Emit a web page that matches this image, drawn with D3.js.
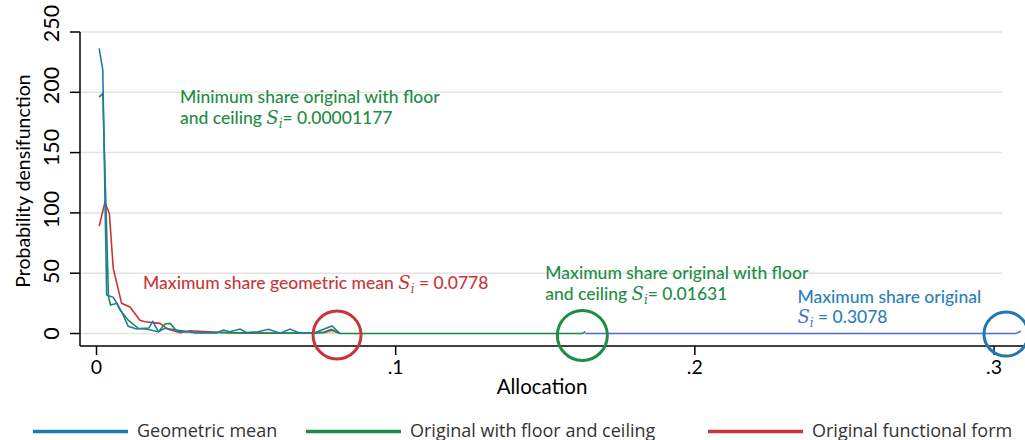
<!DOCTYPE html>
<html><head><meta charset="utf-8">
<script src="https://cdn.jsdelivr.net/npm/d3@7"></script>
<style>
body{margin:0;background:#fff;}
svg{display:block;}
</style></head>
<body><svg id="c" width="1025" height="440"></svg>
<script>
// ---- data ----
const yTicks = [0, 50, 100, 150, 200, 250];
const xTicks = [0, 0.1, 0.2, 0.3];
const xTickLabels = ["0", ".1", ".2", ".3"];

const geoAlloc   = [0.0009,0.0021,0.0034,0.0056,0.0068,0.0084,0.0106,0.0134,0.016,0.0175,0.0188,0.0207,0.0229,0.0268,0.033,0.040,0.0424,0.0446,0.048,0.0502,0.054,0.0575,0.0614,0.0647,0.068,0.0725,0.0787,0.0814];
const geoDensity = [236.5,218.5,32,30,25,18,6,3.7,4.3,4.5,9.8,1.5,4.3,2.9,0.5,0.5,2.9,1.5,3.7,0.7,1.5,3.5,0.3,3.7,0.2,0.2,6.2,0];

const floorAlloc   = [0.0009,0.0021,0.004,0.0047,0.0068,0.0079,0.0106,0.014,0.0168,0.0207,0.0229,0.0246,0.0268,0.0324,0.05,0.07,0.0759,0.0787,0.0814,0.1625,0.1634];
const floorDensity = [196,199,30.5,23.6,25,19.5,11,4.3,3.5,1.5,7.9,8.4,2,1,0.5,0.3,0.7,2.9,0,0,1.5];

const origAlloc   = [0.0009,0.0028,0.0043,0.0056,0.0084,0.0112,0.0145,0.0162,0.0212,0.024,0.028,0.0313,0.0407,0.05,0.07,0.0759,0.0785,0.0814];
const origDensity = [89,108.5,99.6,54,25,22,11,9.8,8.4,3.5,0.7,2.3,1,0.2,0.2,1,3.5,0];

const tailAlloc   = [0.1634,0.3072,0.309];
const tailDensity = [0,0,1.8];

const circleAlloc   = [0.0804, 0.1624, 0.3040];
const circleDensity = [-1.2, -1.6, -0.5];
const circleColors  = ["#c8363a", "#1e8c45", "#1f78b0"];

const legendLabels = ["Geometric mean", "Original with floor and ceiling", "Original functional form"];
const legendColors = ["#1f78b0", "#1e8c45", "#c8363a"];

// ---- chart ----
const svg = d3.select("#c");
const x = d3.scaleLinear().domain([0, 0.3]).range([96.5, 994]);
const y = d3.scaleLinear().domain([0, 250]).range([333.5, 32]);
const yLab = d3.scaleLinear().domain([0, 250]).range([333.5, 23.5]);
const plotL = 80, plotR = 1002, axisBottom = 346;
const axFont = "Lato, sans-serif";

// gridlines
svg.append("g").selectAll("line").data(yTicks).join("line")
  .attr("x1", plotL).attr("x2", plotR)
  .attr("y1", d => y(d)).attr("y2", d => y(d))
  .attr("stroke", "#e3e3e3").attr("stroke-width", 1.5);

// axes lines
svg.append("line").attr("x1", plotL).attr("x2", plotL).attr("y1", y(250)).attr("y2", axisBottom)
  .attr("stroke", "#000").attr("stroke-width", 1.5);
svg.append("line").attr("x1", plotL).attr("x2", 1025).attr("y1", axisBottom).attr("y2", axisBottom)
  .attr("stroke", "#000").attr("stroke-width", 1.5);

// y ticks
svg.append("g").selectAll("line").data(yTicks).join("line")
  .attr("x1", plotL - 10).attr("x2", plotL).attr("y1", d => y(d)).attr("y2", d => y(d))
  .attr("stroke", "#000").attr("stroke-width", 1.5);
svg.append("g").selectAll("text").data(yTicks).join("text")
  .attr("transform", d => `translate(59,${yLab(d)}) rotate(-90)`)
  .attr("text-anchor", "middle")
  .attr("font-family", axFont).attr("font-size", 21.5).attr("fill", "#000")
  .text(d => d);

// x ticks
svg.append("g").selectAll("line").data(xTicks).join("line")
  .attr("x1", d => x(d)).attr("x2", d => x(d)).attr("y1", axisBottom).attr("y2", axisBottom + 9)
  .attr("stroke", "#000").attr("stroke-width", 1.5);
svg.append("g").selectAll("text").data(xTicks).join("text")
  .attr("x", d => x(d)).attr("y", 374)
  .attr("text-anchor", "middle")
  .attr("font-family", axFont).attr("font-size", 19.5).attr("fill", "#000")
  .text((d, i) => xTickLabels[i]);

// axis titles
svg.append("text").attr("x", 542).attr("y", 394).attr("text-anchor", "middle")
  .attr("font-family", axFont).attr("font-size", 20.5).attr("fill", "#000")
  .text("Allocation");
svg.append("text").attr("transform", "translate(30,181) rotate(-90)").attr("text-anchor", "middle")
  .attr("font-family", axFont).attr("font-size", 19.5).attr("fill", "#000")
  .text("Probability densifunction");

// lines
const line = d3.line().x(d => x(d[0])).y(d => y(d[1]));
function series(a, b) { return a.map((v, i) => [v, b[i]]); }
const origData = series(origAlloc, origDensity);
svg.append("path").datum(origData.filter(d => d[0] >= 0.074))
  .attr("d", d3.area().x(d => x(d[0])).y0(y(0)).y1(d => y(d[1])))
  .attr("fill", "#e8a3a3").attr("opacity", 0.6);
svg.append("path").datum(origData).attr("d", line)
  .attr("fill", "none").attr("stroke", "#c8363a").attr("stroke-width", 1.6);
svg.append("path").datum(series(floorAlloc, floorDensity)).attr("d", line)
  .attr("fill", "none").attr("stroke", "#1e8c45").attr("stroke-width", 1.6);
svg.append("path").datum(series(geoAlloc, geoDensity)).attr("d", line)
  .attr("fill", "none").attr("stroke", "#1f78b0").attr("stroke-width", 1.6);
svg.append("path").datum(series(tailAlloc, tailDensity)).attr("d", line)
  .attr("fill", "none").attr("stroke", "#4a72d6").attr("stroke-width", 1.6);

// circles
svg.append("g").selectAll("circle").data(circleAlloc).join("circle")
  .attr("cx", d => x(d)).attr("cy", (d, i) => y(circleDensity[i]))
  .attr("r", (d, i) => [24, 25, 22][i])
  .attr("fill", "none").attr("stroke", (d, i) => circleColors[i]).attr("stroke-width", 3);

// annotations
const annFont = "Lato, sans-serif", annSize = 17.5;
function sub(t, color) {
  t.append("tspan").attr("font-family", "'DejaVu Serif', serif").attr("font-style", "italic")
    .attr("font-weight", "normal").attr("font-size", 18).attr("fill", color).text("S");
  t.append("tspan").attr("font-family", "'DejaVu Serif', serif").attr("font-style", "italic")
    .attr("font-weight", "normal").attr("font-size", 12).attr("dy", 4).attr("fill", color).text("i");
}
function ann(xv, yv, color, lines) {
  const g = svg.append("g").attr("font-family", annFont).attr("font-size", annSize)
    .attr("font-weight", 500).attr("fill", color);
  lines.forEach((ln, k) => {
    const t = g.append("text").attr("x", x(xv)).attr("y", y(yv) + k * 20.5);
    ln(t);
  });
}
ann(0.0279, 191, "#1e8c45", [
  t => t.text("Minimum share original with floor"),
  t => { t.append("tspan").text("and ceiling "); sub(t, "#1e8c45"); t.append("tspan").attr("dy", -4).text("= 0.00001177"); }
]);
ann(0.01555, 36.5, "#c8363a", [
  t => { t.append("tspan").text("Maximum share geometric mean "); sub(t, "#c8363a"); t.append("tspan").attr("dy", -4).text(" = 0.0778"); }
]);
ann(0.15, 44.8, "#1e8c45", [
  t => t.text("Maximum share original with floor"),
  t => { t.append("tspan").text("and ceiling "); sub(t, "#1e8c45"); t.append("tspan").attr("dy", -4).text("= 0.01631"); }
]);
ann(0.2343, 25.3, "#2a80b9", [
  t => t.text("Maximum share original"),
  t => { sub(t, "#4a72d6"); t.append("tspan").attr("dy", -4).text(" = 0.3078"); }
]);

// legend
const legX = [33, 306, 708];
const lg = svg.append("g").selectAll("g").data(legendLabels).join("g")
  .attr("transform", (d, i) => `translate(${legX[i]},431.5)`);
lg.append("line").attr("x1", 0).attr("x2", 95).attr("stroke", (d, i) => legendColors[i]).attr("stroke-width", 3.5);
lg.append("text").attr("x", 104).attr("y", 5)
  .attr("font-family", "'Liberation Sans Narrow', 'Open Sans', sans-serif").attr("font-size", 18)
  .attr("fill", "#333").text(d => d);
</script></body></html>
